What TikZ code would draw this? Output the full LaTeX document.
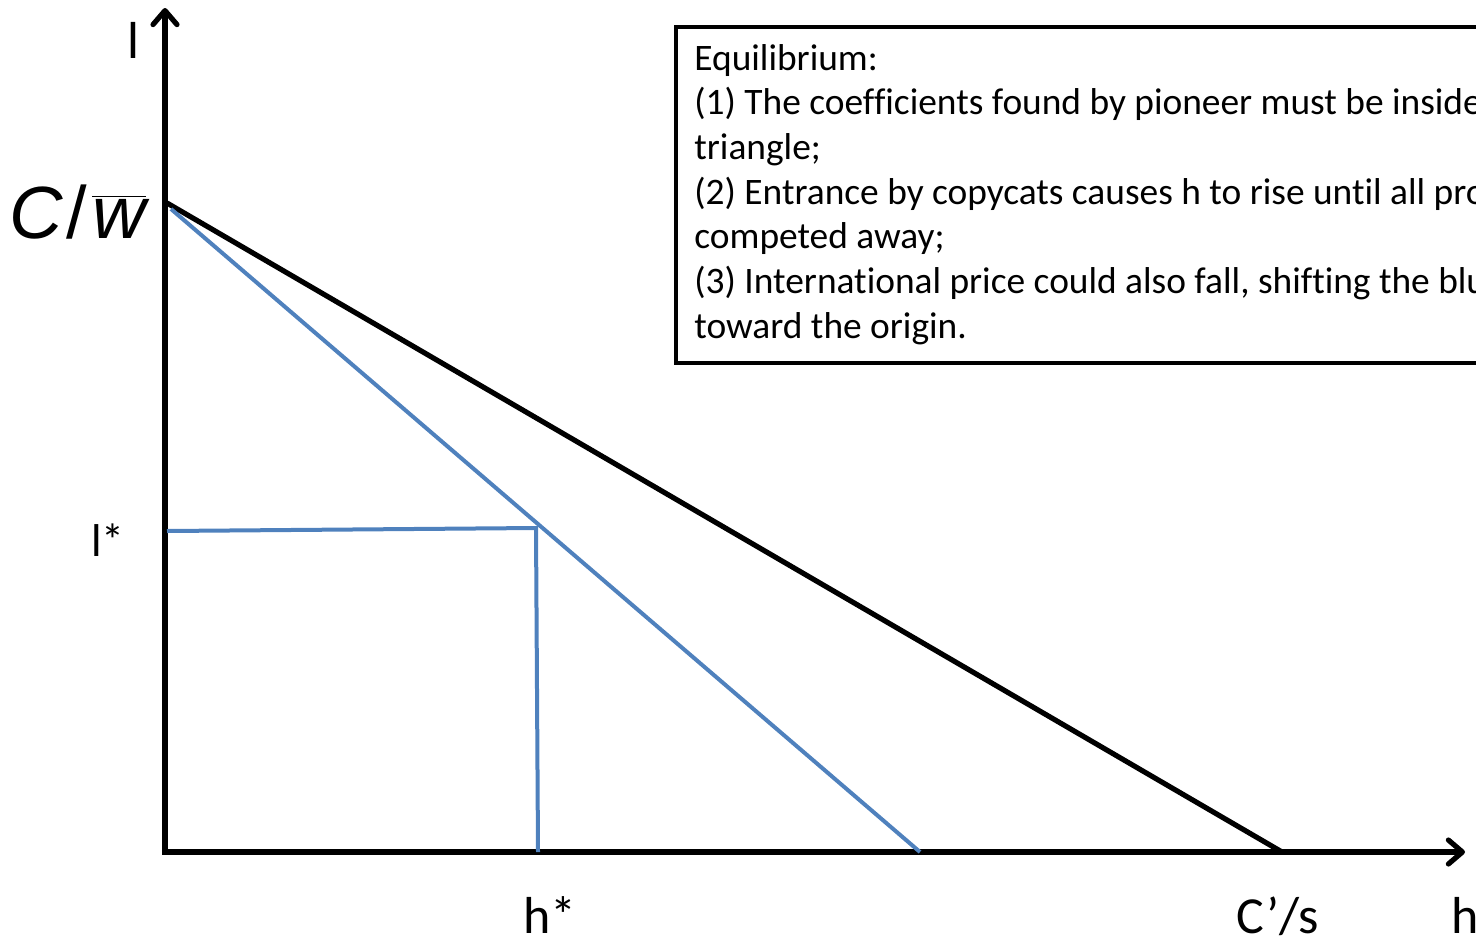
\documentclass[tikz,border=0pt]{standalone}
\usepackage{fontspec}
\setmainfont{Carlito}[Ligatures={NoCommon}]
\newfontfamily\arialfont{Liberation Sans}
\usetikzlibrary{arrows.meta}
\definecolor{lineblue}{RGB}{79,129,189}
\begin{document}
\begin{tikzpicture}[x=0.5pt,y=-0.5pt,
  axis/.style={line width=2.6pt, line join=miter,
    {Straight Barb[length=7pt,width=12pt,round]}-{Straight Barb[length=7pt,width=12pt,round]}},
  blk/.style={line width=2.6pt},
  blu/.style={line width=2pt, draw=lineblue},
  lbl/.style={inner sep=0pt, font=\fontsize{26}{30}\selectfont},
  infobox/.style={draw, line width=2pt, inner sep=0pt, anchor=north west,
    minimum width=413pt, minimum height=168pt}]
\useasboundingbox (0,0) rectangle (1476,937);
\clip (0,0) rectangle (1476,937);
% coordinates
\coordinate (O) at (165,852);
\coordinate (Yt) at (165,8);
\coordinate (Xt) at (1465,852);
\coordinate (A) at (167,203);
\coordinate (B) at (1282,852);
\coordinate (A2) at (171,209);
\coordinate (D) at (920,852);
\coordinate (L) at (167,531);
\coordinate (K) at (536,528);
\coordinate (H) at (538,852);
% axes
\draw[axis] (Yt) -- (O) -- (Xt);
% lines
\draw[blk] (A) -- (B);
\draw[blu] (A2) -- (D);
\draw[blu, line join=miter] (L) -- (K) -- (H);
% labels
\node[lbl, anchor=base] (ly) at (133,58) {l};
\node[lbl, anchor=base west, font=\fontsize{23}{26}\selectfont] (lstar) at (91,556) {l*};
\node[lbl, anchor=base west] (hstar) at (523,933) {h*};
\node[lbl, anchor=base west] (cs) at (1236,933) {C’/s};
\node[lbl, anchor=base west] (hx) at (1451,933) {h};
\node[inner sep=0pt, anchor=base west, font=\arialfont\fontsize{37}{42}\selectfont] (cw) at (9,238)
  {\itshape C\upshape\kern2pt/\kern2.5pt$\overline{\hbox{\arialfont\itshape w}}$};
% text box
\node[infobox] (box) at (674,25) {};
\node[inner sep=0pt, anchor=base west] (txt) at (694,70)
  {\parbox[t]{500pt}{\fontsize{18.7}{22.35}\selectfont\raggedright
  Equilibrium:\\
  (1) The coefficients found by pioneer must be inside\\
  triangle;\\
  (2) Entrance by copycats causes h to rise until all pro\\
  competed away;\\
  (3) International price could also fall, shifting the blu\\
  toward the origin.}};
\end{tikzpicture}
\end{document}
